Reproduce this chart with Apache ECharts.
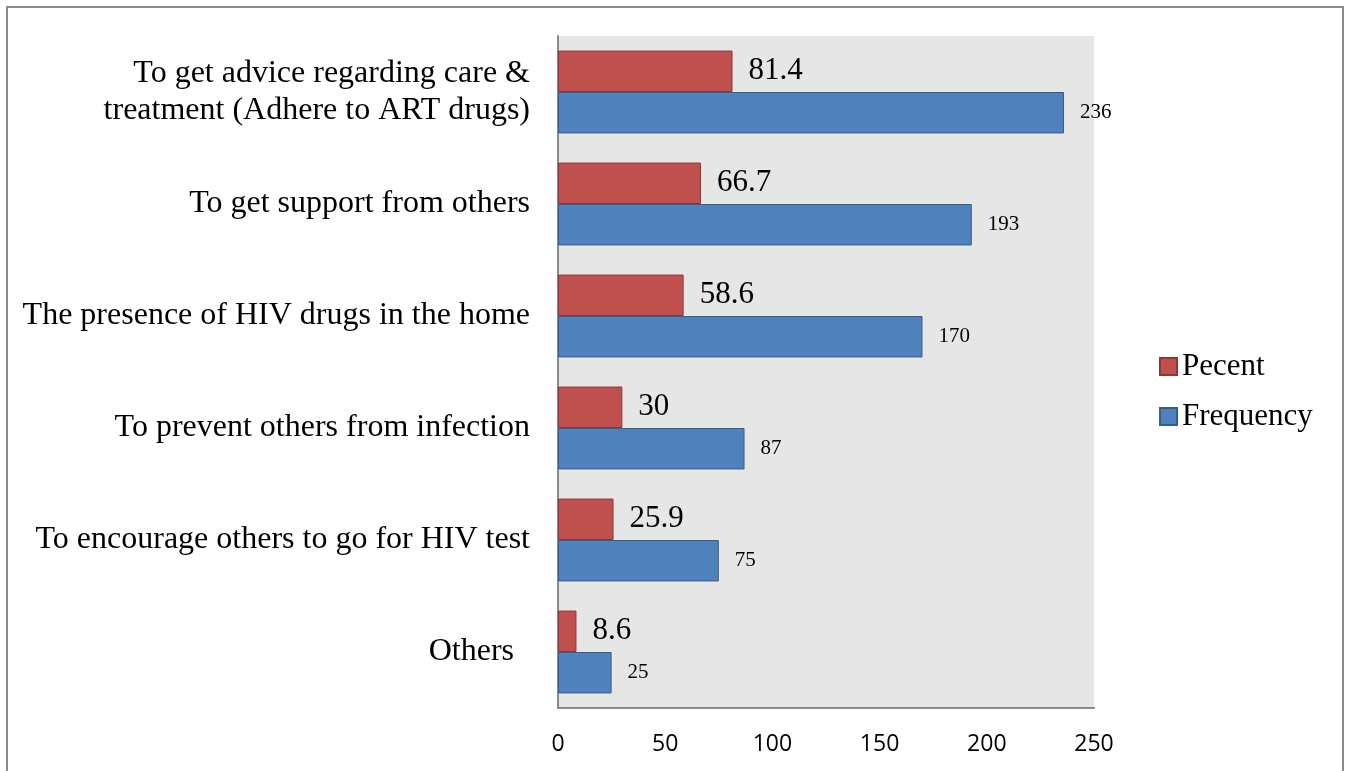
<!DOCTYPE html>
<html>
<head>
<meta charset="utf-8">
<script src="https://cdn.jsdelivr.net/npm/echarts@6/dist/echarts.min.js"></script>
<style>
html,body{margin:0;padding:0;background:#fff;}
#chart{width:1347px;height:771px;}
</style>
</head>
<body>
<div id="chart"></div>
<script>
const categories = [
  "To get advice regarding care &\ntreatment (Adhere to ART drugs)",
  "To get support from others",
  "The presence of HIV drugs in the home",
  "To prevent others from infection",
  "To encourage others to go for HIV test",
  "Others"
];
const percentValues = [81.4, 66.7, 58.6, 30, 25.9, 8.6];
const frequencyValues = [236, 193, 170, 87, 75, 25];
const xTicks = [0, 50, 100, 150, 200, 250];

const serif = "'Liberation Serif','Times New Roman',serif";
const chart = echarts.init(document.getElementById('chart'), null, {renderer: 'canvas'});
chart.setOption({
  backgroundColor: '#ffffff',
  animation: false,
  graphic: [{
    type: 'rect',
    shape: {x: 7, y: 7, width: 1336, height: 800},
    style: {fill: 'none', stroke: '#8c8c8c', lineWidth: 2},
    silent: true,
    z: -10
  }],
  grid: {
    left: 558, top: 36, right: 253, bottom: 63,
    show: true, backgroundColor: '#e6e6e6', borderWidth: 0
  },
  legend: {
    orient: 'vertical',
    left: 1159, top: 351,
    padding: 0,
    itemWidth: 17, itemHeight: 17, itemGap: 19,
    icon: 'rect',
    textStyle: {fontFamily: serif, fontSize: 31, lineHeight: 31, color: '#000'},
    data: ['Pecent', 'Frequency']
  },
  xAxis: {
    type: 'value',
    min: xTicks[0], max: xTicks[xTicks.length - 1], interval: xTicks[1] - xTicks[0],
    splitLine: {show: false},
    axisTick: {show: false},
    axisLine: {show: true, lineStyle: {color: '#8a8a8a', width: 2}},
    axisLabel: {
      margin: 25,
      fontFamily: "'Open Sans','Liberation Sans',sans-serif",
      fontSize: 23, color: '#000'
    }
  },
  yAxis: {
    type: 'category',
    inverse: true,
    data: categories,
    axisTick: {show: false},
    axisLine: {show: true, lineStyle: {color: '#8a8a8a', width: 2}},
    axisLabel: {
      margin: 28,
      fontFamily: serif, fontSize: 32, lineHeight: 37, color: '#000',
      align: 'right',
      padding: [4, 0, 0, 0],
      formatter: function (v) { return v === 'Others' ? v + '  ' : v; }
    }
  },
  series: [
    {
      name: 'Pecent', type: 'bar', data: percentValues,
      barGap: '0%', barCategoryGap: '26%',
      itemStyle: {color: '#c0504d', borderColor: '#8c3836', borderWidth: 1},
      label: {show: true, position: 'right', distance: 16, fontFamily: serif, fontSize: 31, color: '#000'}
    },
    {
      name: 'Frequency', type: 'bar', data: frequencyValues,
      barGap: '0%', barCategoryGap: '26%',
      itemStyle: {color: '#4f81bd', borderColor: '#385d8a', borderWidth: 1},
      label: {show: true, position: 'right', distance: 16, fontFamily: serif, fontSize: 21, color: '#000'}
    }
  ]
});
</script>
</body>
</html>
